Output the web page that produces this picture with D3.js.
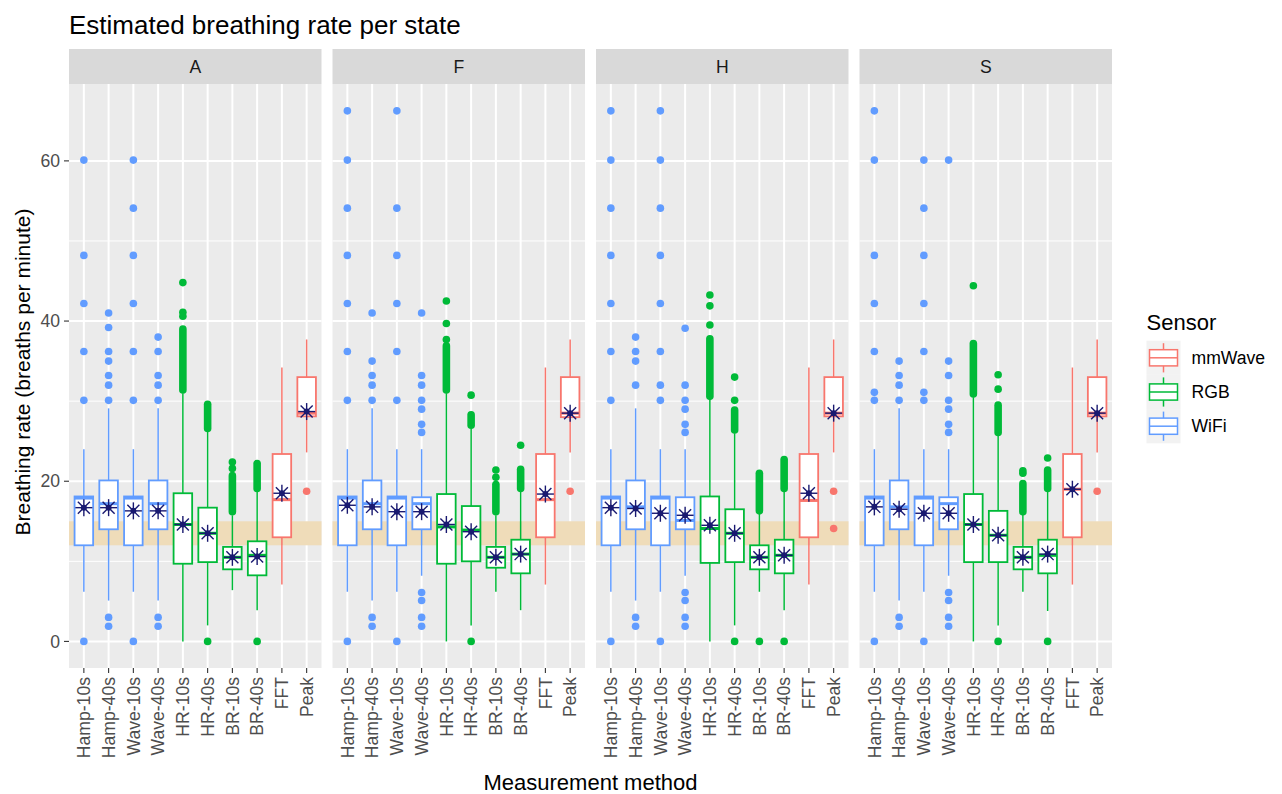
<!DOCTYPE html>
<html>
<head>
<meta charset="utf-8">
<script src="https://cdn.jsdelivr.net/npm/d3@7"></script>
<style>
	body { margin: 0; background: #fff; }
	svg text { font-family: "Liberation Sans", Arial, sans-serif; }
</style>
</head>
<body>
<div id="chart"></div>
<script>
// facets, categories and sensors
var states = ["A", "F", "H", "S"];
var methods = ["Hamp-10s", "Hamp-40s", "Wave-10s", "Wave-40s", "HR-10s", "HR-40s", "BR-10s", "BR-40s", "FFT", "Peak"];
var methodSensor = ["WiFi", "WiFi", "WiFi", "WiFi", "RGB", "RGB", "RGB", "RGB", "mmWave", "mmWave"];
var sensors = ["mmWave", "RGB", "WiFi"];
var yTicks = [0, 20, 40, 60];
var normalBand = [12, 15];

// box statistics, one row per state (A, F, H, S), one value per method
var whiskLo = [
	[6.2, 5.1, 6.2, 5.1, 0, 2.0, 6.4, 3.9, 7.1, 23.6],
	[6.2, 5.1, 6.2, 8.2, 0, 2.0, 6.2, 3.9, 7.1, 23.6],
	[6.2, 5.1, 6.2, 8.2, 0, 2.0, 6.2, 3.9, 7.1, 23.6],
	[6.2, 5.1, 6.2, 8.2, 0, 2.0, 6.2, 3.8, 7.1, 23.6]];
var q1 = [
	[12.0, 14.0, 12.0, 14.0, 9.7, 9.9, 9.0, 8.25, 13.0, 28.1],
	[12.0, 14.0, 12.0, 14.0, 9.7, 10.0, 9.2, 8.5, 13.0, 28.0],
	[12.0, 14.0, 12.0, 14.0, 9.8, 9.9, 9.0, 8.5, 13.0, 28.1],
	[12.0, 14.0, 12.0, 14.0, 9.9, 9.9, 9.0, 8.5, 13.0, 28.1]];
var medians = [
	[17.9, 17.2, 17.9, 17.2, 14.6, 13.5, 10.5, 10.75, 17.7, 28.5],
	[17.9, 17.2, 17.9, 17.2, 14.3, 13.9, 10.5, 10.9, 17.7, 28.5],
	[17.9, 16.8, 17.9, 15.1, 14.1, 13.5, 10.5, 10.75, 17.6, 28.5],
	[17.9, 16.8, 17.9, 17.2, 14.6, 13.25, 10.5, 10.75, 19.0, 28.5]];
var q3 = [
	[18.1, 20.1, 18.1, 20.1, 18.5, 16.7, 11.8, 12.5, 23.4, 33.0],
	[18.1, 20.1, 18.1, 18.0, 18.4, 16.9, 11.8, 12.7, 23.4, 33.0],
	[18.1, 20.1, 18.1, 18.0, 18.1, 16.5, 12.0, 12.7, 23.4, 33.0],
	[18.1, 20.1, 18.1, 18.0, 18.4, 16.3, 11.8, 12.7, 23.4, 33.0]];
var whiskHi = [
	[24.0, 29.1, 24.0, 29.1, 31.0, 26.2, 15.75, 18.7, 34.2, 37.7],
	[24.0, 29.1, 24.0, 24.0, 31.0, 26.6, 15.75, 18.8, 34.2, 37.7],
	[24.0, 29.1, 24.0, 24.0, 30.2, 26.0, 16.0, 18.8, 34.2, 37.7],
	[24.0, 29.1, 24.0, 24.0, 30.5, 25.75, 15.9, 18.8, 34.2, 37.7]];
var means = [
	[16.7, 16.7, 16.3, 16.3, 14.6, 13.5, 10.5, 10.6, 18.5, 28.7],
	[17.0, 16.8, 16.2, 16.2, 14.6, 13.7, 10.5, 10.9, 18.4, 28.5],
	[16.7, 16.6, 16.0, 15.75, 14.5, 13.5, 10.5, 10.75, 18.5, 28.5],
	[16.8, 16.5, 16.0, 16.0, 14.6, 13.25, 10.5, 10.9, 19.0, 28.5]];

// single outliers per state / method
var outliers = [
	[[60.1, 48.2, 42.2, 36.2, 30.1, 0],
	 [41.0, 39.2, 36.2, 35.0, 33.2, 32.0, 30.1, 3.0, 1.9],
	 [60.1, 54.1, 48.2, 42.2, 36.2, 30.1, 0],
	 [38.0, 36.2, 33.2, 32.0, 30.1, 3.0, 1.9],
	 [44.8, 41.1, 40.6],
	 [0],
	 [21.6, 22.4],
	 [0],
	 [],
	 [18.75]],
	[[66.25, 60.1, 54.1, 48.2, 42.2, 36.2, 30.1, 0],
	 [41.0, 35.0, 33.2, 32.0, 30.1, 3.0, 1.9],
	 [66.25, 54.1, 48.2, 42.2, 36.2, 30.1, 0],
	 [41.0, 33.2, 32.0, 30.1, 29.0, 27.1, 26.1, 6.1, 5.1, 3.0, 1.9],
	 [42.5, 39.7, 37.7],
	 [30.75, 0],
	 [20.5, 21.4],
	 [24.5],
	 [],
	 [18.75]],
	[[66.25, 60.1, 54.1, 48.2, 42.2, 36.2, 30.1, 0],
	 [38.0, 36.2, 35.0, 32.0, 3.0, 1.9],
	 [66.25, 60.1, 54.1, 48.2, 42.2, 36.2, 32.0, 30.1, 0],
	 [39.1, 32.0, 30.1, 29.0, 27.1, 26.1, 6.1, 5.1, 3.0, 1.9],
	 [43.25, 41.9, 39.5],
	 [33.0, 30.1, 0],
	 [0],
	 [0],
	 [],
	 [18.75, 14.1]],
	[[66.25, 60.1, 48.2, 42.2, 36.2, 31.1, 30.1, 0],
	 [35.0, 33.2, 32.0, 30.1, 3.0, 1.9],
	 [60.1, 54.1, 48.2, 42.2, 36.2, 31.1, 30.1, 0],
	 [60.1, 35.0, 33.2, 30.1, 29.0, 27.1, 26.1, 6.1, 5.1, 3.0, 1.9],
	 [44.4],
	 [33.3, 31.5, 0],
	 [21.0, 21.3],
	 [22.9, 0],
	 [],
	 [18.75]]];

// stretches where outliers overlap into one solid column [low, high]
var outlierRuns = [
	[null, null, null, null, [31.4, 39.0], [26.6, 29.6], [16.2, 20.7], [19.1, 22.2], null, null],
	[null, null, null, null, [31.4, 36.9], [27.0, 28.3], [16.2, 19.6], [19.1, 21.5], null, null],
	[null, null, null, null, [30.6, 37.8], [26.4, 28.9], [16.3, 21.0], [19.1, 22.7], null, null],
	[null, null, null, null, [30.9, 37.2], [26.1, 29.5], [16.2, 19.7], [19.1, 21.4], null, null]];

var colors = { mmWave: "#F8766D", RGB: "#00BA38", WiFi: "#619CFF" };

var W = 1282, H = 794;
var panelLeft = 69, panelW = 252.5, panelGap = 11;
var stripTop = 49, panelTop = 84, panelBottom = 668;

var svg = d3.select("#chart").append("svg")
	.attr("width", W)
	.attr("height", H);

var x = d3.scalePoint()
	.domain(methods)
	.range([0, panelW])
	.padding(0.6);
var boxW = x.step() * 0.75;

var y = d3.scaleLinear()
	.domain([-3.32, 69.6])
	.range([panelBottom, panelTop]);

var minorTicks = [10, 30, 50];

// title
svg.append("text")
	.attr("x", panelLeft)
	.attr("y", 34)
	.style("font-size", "26px")
	.style("fill", "#000")
	.text("Estimated breathing rate per state");

states.forEach(function(st, si) {
	var px = panelLeft + si * (panelW + panelGap);
	var g = svg.append("g").attr("transform", "translate(" + px + ",0)");

	// strip
	g.append("rect")
		.attr("x", 0).attr("y", stripTop)
		.attr("width", panelW).attr("height", panelTop - stripTop)
		.attr("fill", "#D9D9D9");
	g.append("text")
		.attr("x", panelW / 2).attr("y", (stripTop + panelTop) / 2)
		.attr("dy", "0.35em")
		.attr("text-anchor", "middle")
		.style("font-size", "17.6px")
		.style("fill", "#1A1A1A")
		.text(st);

	// panel background and grid
	g.append("rect")
		.attr("x", 0).attr("y", panelTop)
		.attr("width", panelW).attr("height", panelBottom - panelTop)
		.attr("fill", "#EBEBEB");
	g.selectAll(".minor").data(minorTicks).enter().append("line")
		.attr("x1", 0).attr("x2", panelW)
		.attr("y1", function(d) { return y(d); })
		.attr("y2", function(d) { return y(d); })
		.attr("stroke", "#fff").attr("stroke-width", 1);
	g.selectAll(".major").data(yTicks).enter().append("line")
		.attr("x1", 0).attr("x2", panelW)
		.attr("y1", function(d) { return y(d); })
		.attr("y2", function(d) { return y(d); })
		.attr("stroke", "#fff").attr("stroke-width", 2);
	g.selectAll(".vgrid").data(methods).enter().append("line")
		.attr("x1", function(d) { return x(d); })
		.attr("x2", function(d) { return x(d); })
		.attr("y1", panelTop).attr("y2", panelBottom)
		.attr("stroke", "#fff").attr("stroke-width", 2);

	// normal breathing band
	g.append("rect")
		.attr("x", 0).attr("y", y(normalBand[1]))
		.attr("width", panelW)
		.attr("height", y(normalBand[0]) - y(normalBand[1]))
		.attr("fill", "#EFDCB9");

	methods.forEach(function(m, mi) {
		var cx = x(m);
		var col = colors[methodSensor[mi]];
		var b = g.append("g");

		// outliers
		b.selectAll("circle.out").data(outliers[si][mi]).enter().append("circle")
			.attr("cx", cx).attr("cy", function(d) { return y(d); })
			.attr("r", 3.8).attr("fill", col);
		var run = outlierRuns[si][mi];
		if (run) {
			b.append("line")
				.attr("x1", cx).attr("x2", cx)
				.attr("y1", y(run[0])).attr("y2", y(run[1]))
				.attr("stroke", col).attr("stroke-width", 7.6)
				.attr("stroke-linecap", "round");
		}

		// whiskers
		b.append("line")
			.attr("x1", cx).attr("x2", cx)
			.attr("y1", y(whiskHi[si][mi])).attr("y2", y(q3[si][mi]))
			.attr("stroke", col).attr("stroke-width", 1.5);
		b.append("line")
			.attr("x1", cx).attr("x2", cx)
			.attr("y1", y(q1[si][mi])).attr("y2", y(whiskLo[si][mi]))
			.attr("stroke", col).attr("stroke-width", 1.5);

		// box + median
		b.append("rect")
			.attr("x", cx - boxW / 2).attr("y", y(q3[si][mi]))
			.attr("width", boxW)
			.attr("height", y(q1[si][mi]) - y(q3[si][mi]))
			.attr("fill", "#fff").attr("stroke", col).attr("stroke-width", 1.8);
		b.append("line")
			.attr("x1", cx - boxW / 2).attr("x2", cx + boxW / 2)
			.attr("y1", y(medians[si][mi])).attr("y2", y(medians[si][mi]))
			.attr("stroke", col).attr("stroke-width", 3);

		// mean as asterisk with a dot
		var my = y(means[si][mi]), r = 8.5, rd = r * 0.7071;
		var star = b.append("g").attr("stroke", "#191970").attr("stroke-width", 1.4);
		star.append("line").attr("x1", cx - r).attr("x2", cx + r).attr("y1", my).attr("y2", my);
		star.append("line").attr("x1", cx).attr("x2", cx).attr("y1", my - r).attr("y2", my + r);
		star.append("line").attr("x1", cx - rd).attr("x2", cx + rd).attr("y1", my - rd).attr("y2", my + rd);
		star.append("line").attr("x1", cx - rd).attr("x2", cx + rd).attr("y1", my + rd).attr("y2", my - rd);
		b.append("circle").attr("cx", cx).attr("cy", my).attr("r", 3).attr("fill", "#191970");
	});

	// x axis ticks and labels
	g.selectAll(".xt").data(methods).enter().append("line")
		.attr("x1", function(d) { return x(d); })
		.attr("x2", function(d) { return x(d); })
		.attr("y1", panelBottom).attr("y2", panelBottom + 5)
		.attr("stroke", "#333").attr("stroke-width", 1.1);
	g.selectAll(".xl").data(methods).enter().append("text")
		.attr("transform", function(d) { return "translate(" + x(d) + "," + (panelBottom + 9) + ") rotate(-90)"; })
		.attr("dy", "0.35em")
		.attr("text-anchor", "end")
		.style("font-size", "17.6px")
		.style("fill", "#4D4D4D")
		.text(function(d) { return d; });
});

// y axis on the first panel
svg.selectAll(".yt").data(yTicks).enter().append("line")
	.attr("x1", panelLeft - 5).attr("x2", panelLeft)
	.attr("y1", function(d) { return y(d); })
	.attr("y2", function(d) { return y(d); })
	.attr("stroke", "#333").attr("stroke-width", 1.1);
svg.selectAll(".yl").data(yTicks).enter().append("text")
	.attr("x", panelLeft - 9)
	.attr("y", function(d) { return y(d); })
	.attr("dy", "0.35em")
	.attr("text-anchor", "end")
	.style("font-size", "17.6px")
	.style("fill", "#4D4D4D")
	.text(function(d) { return d; });

// axis titles
var panelsRight = panelLeft + 4 * panelW + 3 * panelGap;
svg.append("text")
	.attr("x", (panelLeft + panelsRight) / 2)
	.attr("y", 790)
	.attr("text-anchor", "middle")
	.style("font-size", "22px")
	.style("fill", "#000")
	.text("Measurement method");
svg.append("text")
	.attr("transform", "translate(30,372) rotate(-90)")
	.attr("text-anchor", "middle")
	.style("font-size", "21px")
	.style("fill", "#000")
	.text("Breathing rate  (breaths per minute)");

// legend
var lg = svg.append("g").attr("transform", "translate(1146.5,0)");
lg.append("text")
	.attr("x", 0).attr("y", 330)
	.style("font-size", "22px")
	.style("fill", "#000")
	.text("Sensor");
var keyH = 34.2, keyTop = 340.7;
sensors.forEach(function(s, i) {
	var ky = keyTop + i * keyH;
	var c = colors[s];
	lg.append("rect")
		.attr("x", 0).attr("y", ky).attr("width", 34).attr("height", keyH)
		.attr("fill", "#F2F2F2");
	lg.append("line")
		.attr("x1", 17).attr("x2", 17).attr("y1", ky + 2.5).attr("y2", ky + keyH - 2.5)
		.attr("stroke", c).attr("stroke-width", 1.5);
	lg.append("rect")
		.attr("x", 3).attr("y", ky + 9).attr("width", 28).attr("height", keyH - 18)
		.attr("fill", "#fff").attr("stroke", c).attr("stroke-width", 1.5);
	lg.append("line")
		.attr("x1", 3).attr("x2", 31).attr("y1", ky + keyH / 2).attr("y2", ky + keyH / 2)
		.attr("stroke", c).attr("stroke-width", 1.5);
	lg.append("text")
		.attr("x", 45).attr("y", ky + keyH / 2)
		.attr("dy", "0.35em")
		.style("font-size", "17.6px")
		.style("fill", "#000")
		.text(s);
});
</script>
</body>
</html>
